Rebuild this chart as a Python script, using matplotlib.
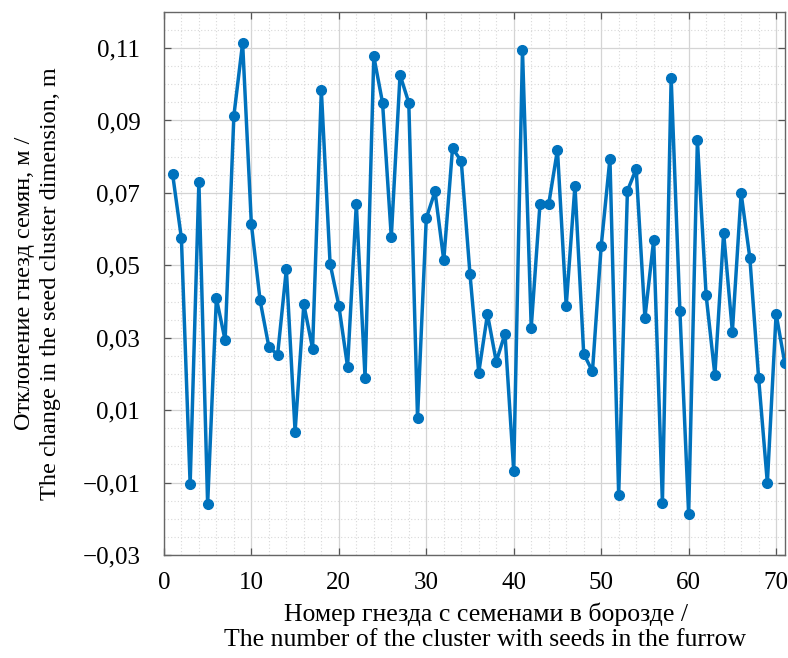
import matplotlib
matplotlib.use("Agg")
import matplotlib.pyplot as plt
from matplotlib.ticker import MultipleLocator, FixedLocator, FixedFormatter

# cluster number and deviation, m
cluster = list(range(1, 72))
deviation = [
    0.0751, 0.0575, -0.0105, 0.0731, -0.0160, 0.0409, 0.0293, 0.0913, 0.1114, 0.0614,
    0.0403, 0.0275, 0.0253, 0.0489, 0.0041, 0.0392, 0.0270, 0.0984, 0.0505, 0.0389,
    0.0220, 0.0669, 0.0190, 0.1077, 0.0949, 0.0578, 0.1026, 0.0949, 0.0079, 0.0630,
    0.0704, 0.0514, 0.0823, 0.0788, 0.0475, 0.0204, 0.0365, 0.0234, 0.0311, -0.0068,
    0.1094, 0.0328, 0.0669, 0.0669, 0.0819, 0.0388, 0.0720, 0.0256, 0.0207, 0.0553,
    0.0795, -0.0135, 0.0706, 0.0766, 0.0355, 0.0570, -0.0155, 0.1018, 0.0374, -0.0188,
    0.0846, 0.0417, 0.0197, 0.0590, 0.0317, 0.0699, 0.0520, 0.0189, -0.0101, 0.0366,
    0.0229,
]

x_ticks = [0, 10, 20, 30, 40, 50, 60, 70]
x_tick_labels = ["0", "10", "20", "30", "40", "50", "60", "70"]
y_ticks = [-0.03, -0.01, 0.01, 0.03, 0.05, 0.07, 0.09, 0.11]
y_tick_labels = ["\u22120,03", "\u22120,01", "0,01", "0,03", "0,05", "0,07", "0,09", "0,11"]

plt.rcParams["font.family"] = ["Liberation Serif", "DejaVu Serif"]

fig = plt.figure(figsize=(7.88, 6.58), dpi=100)
ax = fig.add_axes([0.208, 0.1565, 0.788, 0.8255])

ax.plot(cluster, deviation, color="#0072BD", lw=2.5, marker="o", ms=7,
        markerfacecolor="#0072BD", markeredgecolor="#0072BD", zorder=3)

ax.set_xlim(0, 71)
ax.set_ylim(-0.03, 0.12)

ax.xaxis.set_major_locator(FixedLocator(x_ticks))
ax.xaxis.set_major_formatter(FixedFormatter(x_tick_labels))
ax.yaxis.set_major_locator(FixedLocator(y_ticks))
ax.yaxis.set_major_formatter(FixedFormatter(y_tick_labels))
ax.xaxis.set_minor_locator(MultipleLocator(2))
ax.yaxis.set_minor_locator(MultipleLocator(0.005))

ax.grid(which="major", color="#d4d4d4", lw=0.9, ls="-", zorder=0)
ax.grid(which="minor", color="#d8d8d8", lw=0.8, ls=(0, (1, 2)), zorder=0)

ax.tick_params(which="major", direction="in", length=5, width=0.9, color="#555555",
               top=True, right=True, labelsize=18)
ax.tick_params(axis="y", which="major", pad=17)
ax.tick_params(axis="x", which="major", pad=12)
ax.tick_params(which="minor", length=0)
for sp in ax.spines.values():
    sp.set_color("#666666")
    sp.set_linewidth(1.0)

ax.set_xlabel("Номер гнезда с семенами в борозде /\nThe number of the cluster with seeds in the furrow",
              fontsize=18.5, labelpad=6, linespacing=1.22)
ax.xaxis.label.set_x(0.518)
ax.set_ylabel("Отклонение гнезд семян, м /\nThe change in the seed cluster dimension, m",
              fontsize=17.5, labelpad=15, linespacing=1.32)

fig.savefig("out.png", dpi=100)
